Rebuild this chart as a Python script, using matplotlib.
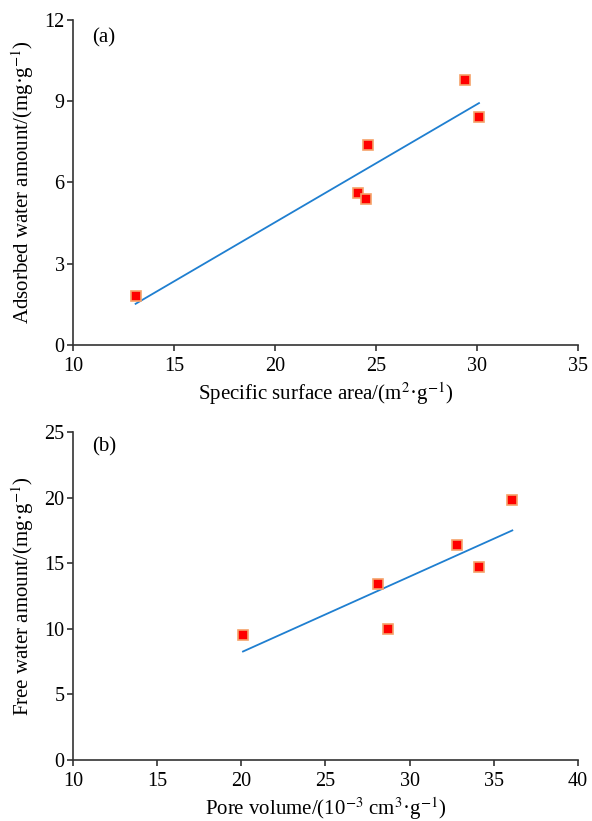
import matplotlib.pyplot as plt

plt.rcParams['font.family'] = ['Liberation Serif', 'DejaVu Serif']
plt.rcParams['mathtext.fontset'] = 'stix'

# (a) specific surface area vs adsorbed water
area = [13.1, 24.1, 24.5, 24.6, 29.4, 30.1]
adsorbed = [1.8, 5.6, 5.4, 7.4, 9.8, 8.4]
fit_a_x = [13.1, 30.1]
fit_a_y = [1.52, 8.93]

# (b) pore volume vs free water
pore = [20.1, 28.1, 28.7, 32.8, 34.1, 36.1]
free = [9.55, 13.4, 10.0, 16.35, 14.7, 19.8]
fit_b_x = [20.1, 36.1]
fit_b_y = [8.27, 17.5]

panels = [
    (area, adsorbed, fit_a_x, fit_a_y, (10, 35), [10, 15, 20, 25, 30, 35],
     (0, 12), [0, 3, 6, 9, 12], "(a)", 0.945,
     "Specific surface area/(m$^2$·g$^{-1}$)",
     "Adsorbed water amount/(mg·g$^{-1}$)"),
    (pore, free, fit_b_x, fit_b_y, (10, 40), [10, 15, 20, 25, 30, 35, 40],
     (0, 25), [0, 5, 10, 15, 20, 25], "(b)", 0.954,
     "Pore volume/(10$^{-3}$ cm$^3$·g$^{-1}$)",
     "Free water amount/(mg·g$^{-1}$)"),
]

fig = plt.figure(figsize=(5.92, 8.21), dpi=100)
boxes = [[0.1233, 0.5798, 0.853, 0.3959], [0.1233, 0.0743, 0.853, 0.3995]]

for box, (x, y, fx, fy, xl, xt, yl, yt, tag, ty, xlab, ylab) in zip(boxes, panels):
    ax = fig.add_axes(box)
    ax.plot(fx, fy, color="#1f7fd0", lw=1.3, zorder=2)
    ax.plot(x, y, ls="none", marker="s", ms=7.5, mfc="#ff0000",
            mec="#f5a26a", mew=1.2, zorder=3)
    ax.set_xlim(*xl)
    ax.set_ylim(*yl)
    ax.set_xticks(xt)
    ax.set_yticks(yt)
    for s in ["top", "right"]:
        ax.spines[s].set_visible(False)
    for s in ["left", "bottom"]:
        ax.spines[s].set_linewidth(1.2)
        ax.spines[s].set_color("#333333")
    ax.tick_params(direction="out", length=4, width=1.2, color="#333333",
                   labelsize=14.5)
    ax.tick_params(axis="x", pad=5)
    ax.tick_params(axis="y", pad=2)
    ax.set_xlabel(xlab, fontsize=15, labelpad=3)
    ax.set_ylabel(ylab, fontsize=15, labelpad=6)
    ax.text(0.038, ty, tag, transform=ax.transAxes, fontsize=15, va="center")

fig.savefig("out.png", dpi=100)
